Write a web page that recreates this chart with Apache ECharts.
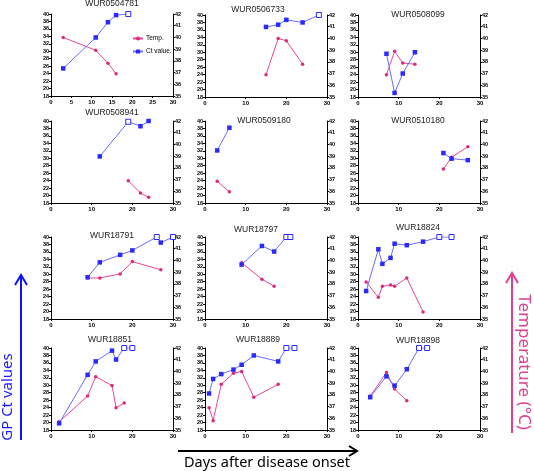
<!DOCTYPE html>
<html><head><meta charset="utf-8">
<script src="https://cdn.jsdelivr.net/npm/echarts@6/dist/echarts.min.js"></script>
<style>html,body{margin:0;padding:0;background:#fff}#c{width:534px;height:471px}</style>
</head><body><div id="c"></div>
<script>
// ---- data ----
const panelTitles = ['WUR0504781','WUR0506733','WUR0508099','WUR0508941','WUR0509180','WUR0510180',
                     'WUR18791','WUR18797','WUR18824','WUR18851','WUR18889','WUR18898'];
const ctDays = [
  [3,11,14,16,19],
  [15,18,20,24,28],
  [7,9,11,14],
  [12,19,22,24],
  [3,6],
  [21,23,27],
  [9,12,17,20,26,27,30],
  [9,14,17,20,21],
  [2,5,6,8,9,12,16,20,23],
  [2,9,11,15,16,18,20],
  [1,2,4,7,9,12,18,20,22],
  [3,7,9,12,15,17]
];
const ctValues = [
  [25.4,33.7,37.8,39.7,40],
  [36.8,37.4,38.7,38.0,40],
  [29.6,19.1,24.3,30.0],
  [30.5,39.8,38.6,40],
  [32.1,38.2],
  [31.4,29.9,29.5],
  [29.2,33.2,35.2,36.4,40,38.5,40],
  [32.6,37.6,36.1,40,40],
  [25.5,36.7,32.8,34.4,38.2,37.8,38.75,40,40],
  [19.8,32.8,36.4,39.3,36.9,40,40],
  [27.8,31.7,33.0,34.2,35.5,38.0,36.4,40,40],
  [26.8,32.4,29.9,34.3,40,40]
];
// 1 = open square (not detected)
const ctOpen = [
  [0,0,0,0,1],
  [0,0,0,0,1],
  [0,0,0,0],
  [0,1,0,0],
  [0,0],
  [0,0,0],
  [0,0,0,0,1,0,1],
  [0,0,0,1,1],
  [0,0,0,0,0,0,0,1,1],
  [0,0,0,0,0,1,1],
  [0,0,0,0,0,0,0,1,1],
  [0,0,0,0,1,1]
];
const tempDays = [
  [3,11,14,16],
  [15,18,20,24],
  [7,9,11,14],
  [19,22,24],
  [3,6],
  [21,23,27],
  [9,12,17,20,27],
  [9,14,17],
  [2,5,6,8,9,12,16],
  [2,9,11,15,16,18],
  [1,2,4,7,9,12,18],
  [3,7,9,12]
];
const tempValues = [
  [40.0,38.9,37.8,36.9],
  [36.9,40.0,39.8,37.8],
  [36.9,38.9,37.9,37.8],
  [36.9,35.85,35.5],
  [36.85,35.95],
  [37.9,38.9,39.8],
  [38.5,38.5,38.85,39.9,39.2],
  [39.8,38.4,37.8],
  [38.15,36.85,37.8,37.9,37.8,38.5,35.6],
  [35.7,37.9,39.55,38.8,36.9,37.3],
  [36.9,35.8,38.9,39.85,40.0,37.8,38.9],
  [37.9,39.9,38.5,37.5]
];
const xTickStep = [5,10,10,10,10,10,10,10,10,10,10,10];
const ctAxisRange = [18,40,2];
const tempAxisRange = [35,42,1];
const dayAxisRange = [0,30];
const seriesNames = ['Temp.','Ct value.'];
const axisTitles = ['GP Ct values','Temperature (\u00B0C)','Days after disease onset'];

// ---- layout ----
const colLeft = [51,205,358];
const rowTop = [[14,15,15],[121,121,121],[237,237,237],[348,348,348]];
const titlePos = [[112,4],[258,10],[418,15],[112,113],[264,121],[418,121],
                  [112,236],[256,230],[418,228],[110,340],[258,340],[418,341]];
const GW = 122, GH = 82;
const BLUE = '#2a2aff', BLUE_LINE = '#6b6bff', PINK = '#dc2a7a', PINK_LINE = '#e6489a';
const FONT = '"Liberation Sans", Arial, sans-serif';

const grid = [], xAxis = [], yAxis = [], series = [], graphic = [];
for (let i = 0; i < 12; i++) {
  const r = Math.floor(i / 3), c = i % 3;
  grid.push({left: colLeft[c], top: rowTop[r][c], width: GW, height: GH});
  const axLine = {show: true, onZero: false, lineStyle: {color: '#000', width: 1}};
  const tick = {show: true, length: 2, lineStyle: {color: '#000'}};
  xAxis.push({type: 'value', gridIndex: i, min: dayAxisRange[0], max: dayAxisRange[1], interval: xTickStep[i],
    axisLine: axLine, axisTick: tick, splitLine: {show: false},
    axisLabel: {fontSize: 6, margin: 3, color: '#000', fontFamily: FONT, fontWeight: 'bold'}});
  yAxis.push({type: 'value', gridIndex: i, position: 'left', min: ctAxisRange[0], max: ctAxisRange[1], interval: ctAxisRange[2],
    axisLine: axLine, axisTick: tick, splitLine: {show: false},
    axisLabel: {fontSize: 5.5, margin: 2, color: '#000', fontFamily: FONT, fontWeight: 'bold'}});
  yAxis.push({type: 'value', gridIndex: i, position: 'right', min: tempAxisRange[0], max: tempAxisRange[1], interval: tempAxisRange[2],
    axisLine: axLine, axisTick: tick, splitLine: {show: false},
    axisLabel: {fontSize: 5.5, margin: 2, color: '#000', fontFamily: FONT, fontWeight: 'bold'}});
  series.push({
    name: seriesNames[0], type: 'line', xAxisIndex: i, yAxisIndex: 2 * i + 1,
    symbol: 'circle', symbolSize: 3.5, z: 2,
    itemStyle: {color: PINK}, lineStyle: {color: PINK_LINE, width: 1},
    data: tempDays[i].map((d, k) => [d, tempValues[i][k]])
  });
  series.push({
    name: seriesNames[1], type: 'line', xAxisIndex: i, yAxisIndex: 2 * i,
    symbol: 'rect', symbolSize: 4.5, z: 3,
    itemStyle: {color: BLUE}, lineStyle: {color: BLUE_LINE, width: 1},
    data: ctDays[i].map((d, k) => ctOpen[i][k]
      ? {value: [d, ctValues[i][k]], symbolSize: 5, itemStyle: {color: '#fff', borderColor: BLUE, borderWidth: 1}}
      : [d, ctValues[i][k]])
  });
  graphic.push({type: 'text', x: titlePos[i][0], y: titlePos[i][1], z: 10,
    style: {text: panelTitles[i], font: '8.5px ' + FONT, fill: '#222', textAlign: 'center', textVerticalAlign: 'middle'}});
}

// outer annotations
const ANN = '"Noto Sans", "Open Sans", sans-serif';
graphic.push(
  {type: 'line', shape: {x1: 21, y1: 440, x2: 21, y2: 276}, style: {stroke: '#1010ff', lineWidth: 2}},
  {type: 'polyline', shape: {points: [[15, 285], [21, 275], [27, 285]]}, style: {stroke: '#1010ff', lineWidth: 2, fill: null}},
  {type: 'text', x: 8, y: 397, rotation: Math.PI / 2,
    style: {text: axisTitles[0], font: '15px ' + ANN, fill: '#1a1aff', textAlign: 'center', textVerticalAlign: 'middle'}},
  {type: 'line', shape: {x1: 512, y1: 433, x2: 512, y2: 274}, style: {stroke: '#e0408f', lineWidth: 2}},
  {type: 'polyline', shape: {points: [[506, 283], [512, 273], [518, 283]]}, style: {stroke: '#e0408f', lineWidth: 2, fill: null}},
  {type: 'text', x: 524, y: 362, rotation: -Math.PI / 2,
    style: {text: axisTitles[1], font: '17px ' + ANN, fill: '#e0408f', textAlign: 'center', textVerticalAlign: 'middle'}},
  {type: 'line', shape: {x1: 178, y1: 451, x2: 356, y2: 451}, style: {stroke: '#000', lineWidth: 2}},
  {type: 'polyline', shape: {points: [[349, 446], [357, 451], [349, 456]]}, style: {stroke: '#000', lineWidth: 2, fill: null}},
  {type: 'text', x: 267, y: 463,
    style: {text: axisTitles[2], font: '14.5px ' + ANN, fill: '#000', textAlign: 'center', textVerticalAlign: 'middle'}}
);

const chart = echarts.init(document.getElementById('c'), null, {renderer: 'canvas'});
chart.setOption({
  animation: false,
  backgroundColor: '#fff',
  grid, xAxis, yAxis, series, graphic,
  legend: {data: seriesNames, orient: 'vertical', left: 127, top: 30, itemWidth: 10, itemHeight: 5, itemGap: 6,
    textStyle: {fontSize: 6.5, fontFamily: FONT, color: '#000', padding: [0, 0, 0, -2]}}
});
</script></body></html>
